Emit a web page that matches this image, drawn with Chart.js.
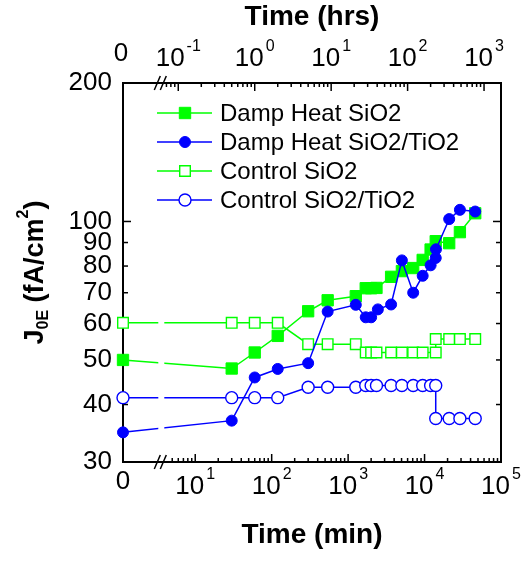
<!DOCTYPE html>
<html>
<head>
<meta charset="utf-8">
<script src="https://cdn.jsdelivr.net/npm/chart.js@4.4.0/dist/chart.umd.min.js"></script>
<style>
  html, body { margin: 0; padding: 0; background: #fff; }
  #chart { display: block; }
</style>
</head>
<body>
<canvas id="chart" width="528" height="561"></canvas>
<script>
// time in minutes, 0 is drawn at the left edge (before the axis break)
const tDampSiO2 = [0, 30, 60, 120, 300, 540, 1260, 1700, 2000, 2350, 3650, 5050, 7100, 9450, 12000, 14000, 21000, 29000, 46000];
const jDampSiO2 = [50.0, 47.9, 51.9, 56.4, 63.8, 67.4, 68.8, 71.6, 71.6, 71.7, 75.8, 78.0, 79.2, 82.5, 86.9, 90.6, 89.7, 94.8, 104.2];

const tDampTiO2 = [0, 30, 60, 120, 300, 540, 1260, 1700, 2000, 2450, 3650, 5050, 7100, 9450, 12000, 14000, 14100, 21000, 29000, 46000];
const jDampTiO2 = [34.8, 36.9, 45.8, 47.8, 49.2, 63.7, 65.9, 61.9, 61.9, 64.4, 66.0, 82.3, 70.0, 76.2, 80.3, 83.3, 87.0, 101.2, 106.0, 105.1];

const tCtrlSiO2 = [0, 30, 60, 120, 300, 540, 1260, 1700, 2000, 2350, 3650, 5050, 7100, 9450, 14000, 14000, 21000, 29000, 46000];
const jCtrlSiO2 = [60.2, 60.2, 60.2, 60.2, 54.1, 54.1, 54.1, 51.9, 51.9, 51.9, 51.9, 51.9, 51.9, 51.9, 51.9, 55.5, 55.5, 55.5, 55.5];

const tCtrlTiO2 = [0, 30, 60, 120, 300, 540, 1260, 1700, 2000, 2350, 3650, 5050, 7100, 9450, 12000, 14000, 14000, 21000, 29000, 46000];
const jCtrlTiO2 = [41.4, 41.4, 41.4, 41.4, 43.6, 43.6, 43.6, 44.0, 44.0, 44.0, 44.0, 44.0, 44.0, 44.0, 44.0, 44.0, 37.3, 37.3, 37.3, 37.3];

const seriesNames = ["Damp Heat SiO2", "Damp Heat SiO2/TiO2", "Control SiO2", "Control SiO2/TiO2"];
const yTicks = [30, 40, 50, 60, 70, 80, 90, 100, 200];
const minDecades = [1, 2, 3, 4, 5];      // bottom axis 10^n min
const hrDecades = [-1, 0, 1, 2, 3];      // top axis 10^n hrs

const X_MIN = 0.055;   // log10 position used for t = 0
const X_MAX = 5;
const X_BREAK = 0.556; // where the axis is broken
const FONT = "'Liberation Sans', Arial, sans-serif";
const GREEN = "#00ff00";
const BLUE = "#0000ff";

function xPos(t) {
  return t === 0 ? X_MIN : Math.log10(t);
}

function toPoints(ts, vs) {
  return ts.map((t, i) => ({ x: xPos(t), y: vs[i] }));
}

const styles = [
  { color: GREEN, shape: "rect", filled: true },
  { color: BLUE, shape: "circle", filled: true },
  { color: GREEN, shape: "rect", filled: false },
  { color: BLUE, shape: "circle", filled: false },
];

function makeDataset(i, pts, order) {
  const s = styles[i];
  return {
    label: seriesNames[i],
    data: pts,
    borderColor: s.color,
    borderWidth: 1.5,
    pointStyle: s.shape,
    pointRadius: s.shape === "rect" ? (s.filled ? 8 : 7.5) : (s.filled ? 5.5 : 6),
    pointBackgroundColor: s.filled ? s.color : "#fff",
    pointBorderColor: s.color,
    pointBorderWidth: s.filled ? 1 : 1.4,
    tension: 0,
    clip: false,
    order: order,
  };
}

function drawMarker(ctx, i, x, y) {
  const s = styles[i];
  ctx.beginPath();
  if (s.shape === "rect") {
    const h = s.filled ? 5.7 : 5.3;
    ctx.rect(x - h, y - h, 2 * h, 2 * h);
  } else {
    ctx.arc(x, y, s.filled ? 5.5 : 6, 0, Math.PI * 2);
  }
  ctx.fillStyle = s.filled ? s.color : "#fff";
  ctx.fill();
  ctx.lineWidth = s.filled ? 1 : 1.4;
  ctx.strokeStyle = s.color;
  ctx.stroke();
}

// "10" with a raised exponent, centred on cx
function powLabel(ctx, exp, cx, cy) {
  ctx.font = "26px " + FONT;
  const wb = ctx.measureText("10").width;
  ctx.font = "16px " + FONT;
  const we = ctx.measureText(exp).width;
  const x0 = cx - (wb + we + 2) / 2;
  ctx.textAlign = "left";
  ctx.textBaseline = "middle";
  ctx.font = "26px " + FONT;
  ctx.fillText("10", x0, cy);
  ctx.font = "16px " + FONT;
  ctx.fillText(exp, x0 + wb + 2, cy - 12);
}

function tick(ctx, x1, y1, x2, y2) {
  ctx.beginPath();
  ctx.moveTo(x1, y1);
  ctx.lineTo(x2, y2);
  ctx.stroke();
}

const framePlugin = {
  id: "frame",
  beforeDatasetsDraw(chart) {
    const { ctx, chartArea: a, scales } = chart;
    const xs = scales.x, ys = scales.y;
    ctx.save();
    ctx.strokeStyle = "#000";
    ctx.lineWidth = 2;
    ctx.strokeRect(a.left, a.top, a.right - a.left, a.bottom - a.top);

    ctx.lineWidth = 1.5;
    // bottom axis ticks (minutes)
    for (let d = 0; d < 5; d++) {
      for (let m = 1; m <= 9; m++) {
        const v = Math.log10(m) + d;
        if (v <= X_BREAK + 0.1 || v > X_MAX) continue;
        const px = xs.getPixelForValue(v);
        const len = m === 1 ? 8 : 4;
        tick(ctx, px, a.bottom, px, a.bottom - len);
      }
    }
    // top axis ticks (hours = minutes / 60)
    for (let d = -2; d < 4; d++) {
      for (let m = 1; m <= 9; m++) {
        const v = Math.log10(60 * m) + d;
        if (v <= X_BREAK + 0.05 || v > X_MAX) continue;
        const px = xs.getPixelForValue(v);
        const len = m === 1 ? 8 : 4;
        tick(ctx, px, a.top, px, a.top + len);
      }
    }
    // y ticks on both sides
    yTicks.forEach((v) => {
      const py = ys.getPixelForValue(v);
      const len = v === 100 || v === 200 ? 8 : 5;
      tick(ctx, a.left, py, a.left + len, py);
      tick(ctx, a.right, py, a.right - len, py);
    });
    ctx.restore();
  },
  afterDatasetsDraw(chart) {
    const { ctx, chartArea: a, scales } = chart;
    const xs = scales.x;
    const bx = xs.getPixelForValue(X_BREAK);
    ctx.save();

    // gap in the data lines at the axis break
    ctx.fillStyle = "#fff";
    ctx.fillRect(bx - 3, a.top + 2, 6, a.bottom - a.top - 4);

    // break marks on top and bottom axes
    ctx.strokeStyle = "#000";
    ctx.lineWidth = 1.5;
    [a.top, a.bottom].forEach((y) => {
      tick(ctx, bx - 7, y + 7, bx - 1, y - 7);
      tick(ctx, bx - 1, y + 7, bx + 5, y - 7);
    });

    // legend inside the plot
    ctx.font = "24px " + FONT;
    seriesNames.forEach((name, i) => {
      const ly = a.top + 30 + i * 29;
      ctx.strokeStyle = styles[i].color;
      ctx.lineWidth = 1.5;
      tick(ctx, a.left + 34, ly, a.left + 89, ly);
      drawMarker(ctx, i, a.left + 62, ly);
      ctx.fillStyle = "#000";
      ctx.textAlign = "left";
      ctx.textBaseline = "middle";
      ctx.font = "24px " + FONT;
      ctx.fillText(name, a.left + 97, ly + 1);
    });

    // x tick labels
    ctx.fillStyle = "#000";
    const botY = a.bottom + 25;
    const topY = a.top - 24;
    ctx.font = "26px " + FONT;
    ctx.textAlign = "center";
    ctx.textBaseline = "middle";
    ctx.fillText("0", xs.getPixelForValue(X_MIN), botY - 5);
    ctx.fillText("0", xs.getPixelForValue(X_MIN) - 2, topY - 5);
    minDecades.forEach((n) => powLabel(ctx, String(n), xs.getPixelForValue(n), botY));
    hrDecades.forEach((n) => powLabel(ctx, String(n), xs.getPixelForValue(n + Math.log10(60)), topY));

    // axis titles
    const cx = (a.left + a.right) / 2;
    ctx.font = "bold 28px " + FONT;
    ctx.textAlign = "center";
    ctx.fillText("Time (hrs)", cx, 17);
    ctx.fillText("Time (min)", cx, 535);

    // y title J0E (fA/cm2), rotated
    const parts = [
      { t: "J", f: "bold 27px ", dy: 0 },
      { t: "0E", f: "bold 16px ", dy: 8 },
      { t: " (fA/cm", f: "bold 27px ", dy: 0 },
      { t: "2", f: "bold 16px ", dy: -12 },
      { t: ")", f: "bold 27px ", dy: 0 },
    ];
    let total = 0;
    parts.forEach((p) => {
      ctx.font = p.f + FONT;
      p.w = ctx.measureText(p.t).width;
      total += p.w;
    });
    ctx.translate(36, (a.top + a.bottom) / 2);
    ctx.rotate(-Math.PI / 2);
    ctx.textAlign = "left";
    let x = -total / 2;
    parts.forEach((p) => {
      ctx.font = p.f + FONT;
      ctx.fillText(p.t, x, p.dy);
      x += p.w;
    });
    ctx.restore();
  },
};

new Chart(document.getElementById("chart"), {
  type: "line",
  data: {
    datasets: [
      makeDataset(0, toPoints(tDampSiO2, jDampSiO2), 1),
      makeDataset(1, toPoints(tDampTiO2, jDampTiO2), 0),
      makeDataset(2, toPoints(tCtrlSiO2, jCtrlSiO2), 3),
      makeDataset(3, toPoints(tCtrlTiO2, jCtrlTiO2), 2),
    ],
  },
  options: {
    responsive: false,
    animation: false,
    devicePixelRatio: 1,
    layout: { padding: { left: 0, right: 27, top: 0, bottom: 0 } },
    plugins: { legend: { display: false }, tooltip: { enabled: false } },
    scales: {
      x: {
        type: "linear",
        position: "bottom",
        min: X_MIN,
        max: X_MAX,
        grid: { display: false },
        border: { display: false },
        ticks: { display: false },
        afterFit: (s) => { s.height = 99; },
      },
      xTop: {
        type: "linear",
        position: "top",
        min: X_MIN,
        max: X_MAX,
        grid: { display: false },
        border: { display: false },
        ticks: { display: false },
        afterFit: (s) => { s.height = 83; },
      },
      y: {
        type: "logarithmic",
        min: 30,
        max: 200,
        grid: { display: false, drawTicks: false },
        border: { display: false },
        afterBuildTicks: (s) => { s.ticks = yTicks.map((v) => ({ value: v })); },
        afterFit: (s) => { s.width = 123; },
        ticks: {
          autoSkip: false,
          padding: 11,
          color: "#000",
          font: { family: FONT, size: 26 },
          callback: (v) => String(v),
        },
      },
    },
  },
  plugins: [framePlugin],
});
</script>
</body>
</html>
